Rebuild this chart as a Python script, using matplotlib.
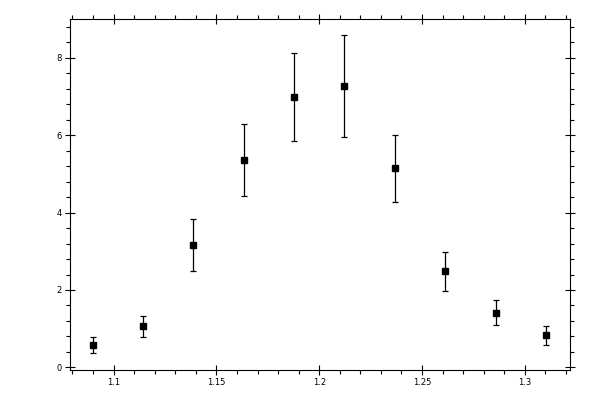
import matplotlib
matplotlib.use('Agg')
import matplotlib.pyplot as plt
from matplotlib.ticker import MultipleLocator

# valores
x = [1.0898, 1.1143, 1.1388, 1.1633, 1.1878, 1.2123, 1.2368, 1.2613, 1.2858, 1.3103]
y = [0.58, 1.07, 3.16, 5.35, 6.97, 7.26, 5.14, 2.48, 1.40, 0.84]
y_top = [0.78, 1.33, 3.82, 6.28, 8.11, 8.57, 6.01, 2.99, 1.73, 1.07]
y_bottom = [0.37, 0.78, 2.49, 4.42, 5.84, 5.94, 4.27, 1.97, 1.10, 0.58]

err_low = [v - b for v, b in zip(y, y_bottom)]
err_high = [t - v for v, t in zip(y, y_top)]

fig = plt.figure(figsize=(6, 4), dpi=100)
ax = fig.add_axes([0.116, 0.075, 0.834, 0.877])

ax.errorbar(x, y, yerr=[err_low, err_high], fmt='s', color='black',
            markersize=5, elinewidth=0.9, capsize=2.5, capthick=0.9)

ax.set_xlim(1.0786, 1.322)
ax.set_ylim(-0.065, 8.99)

ax.xaxis.set_major_locator(MultipleLocator(0.05))
ax.xaxis.set_minor_locator(MultipleLocator(0.01))
ax.yaxis.set_major_locator(MultipleLocator(2))
ax.yaxis.set_minor_locator(MultipleLocator(0.4))
ax.xaxis.set_major_formatter(plt.FuncFormatter(lambda v, p: ('%.2f' % v).rstrip('0')))

ax.tick_params(which='major', direction='inout', length=7, width=0.8,
               top=True, right=True, labelsize=6, pad=2)
ax.tick_params(which='minor', direction='out', length=3, width=0.8,
               top=True, right=True)
for s in ax.spines.values():
    s.set_linewidth(0.8)

fig.savefig('out.png', dpi=100)
